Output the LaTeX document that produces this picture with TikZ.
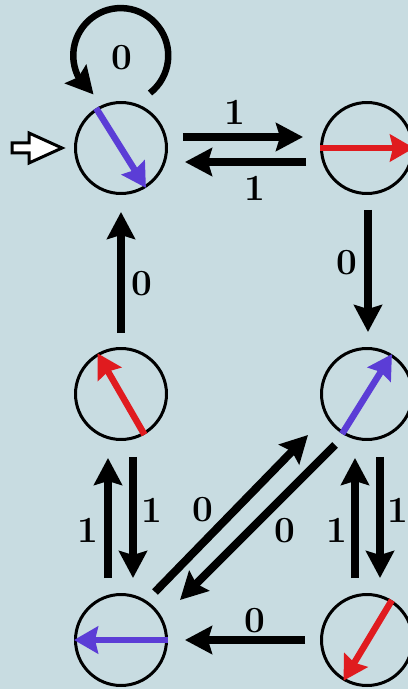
\documentclass[tikz,border=0pt]{standalone}
\usepackage{tikz}
\usetikzlibrary{arrows.meta,positioning,calc,bending}
\definecolor{board}{HTML}{C8DCE1}
\definecolor{spinred}{HTML}{E01B1F}
\definecolor{spinblue}{HTML}{5B3DD6}

\tikzset{
  state/.style={circle, draw, line width=0.06cm, minimum size=1.82cm, inner sep=0pt},
  trans/.style={line width=0.16cm, -{Stealth[length=0.54cm, width=0.56cm, inset=0.08cm]}},
  needle/.style={line width=0.13cm, -{Stealth[length=0.48cm, width=0.54cm, inset=0.06cm]}},
  lbl/.style={font=\fontsize{21}{24}\selectfont\bfseries, inner sep=0pt},
}

\begin{document}
\begin{tikzpicture}[x=0.02cm, y=0.02cm]
  \path[use as bounding box, fill=board] (0,0) rectangle (408,-689);
  \clip (0,0) rectangle (408,-689);

  % --- states ---
  \node[state] (q0) at (121,-148) {};
  \node[state] (q1) at (367,-148) {};
  \node[state] (q2) at (121,-394) {};
  \node[state] (q3) at (367,-394) {};
  \node[state] (q4) at (121,-640) {};
  \node[state] (q5) at (367,-640) {};

  % --- needles ---
  \draw[needle, spinblue] (q0.122) -- (q0.-58);
  \draw[needle, spinred]  (q1.180) -- (q1.0);
  \draw[needle, spinred]  (q2.-60) -- (q2.120);
  \draw[needle, spinblue] (q3.238) -- (q3.58);
  \draw[needle, spinblue] (q4.0)   -- (q4.180);
  \draw[needle, spinred]  (q5.58)  -- (q5.240);

  % --- start arrow ---
  \coordinate (init) at ($(q0.west)+(-12,0)$);
  \draw[line width=0.06cm, fill=white, line join=miter] (init) -- ++(-33,15) -- ++(0,-10)
    -- ++(-17,0) -- ++(0,-10) -- ++(17,0) -- ++(0,-10) -- cycle;

  % --- self loop ---
  \draw[trans, line width=0.13cm] ($(q0)+(29,55)$) arc[start angle=-52, end angle=235, radius=0.95cm];
  \node[lbl] (l00) at ($(q0)+(1,90)$) {0};

  % --- top row ---
  \draw[trans] ($(q0.east)+(15,11)$) -- node[lbl, pos=.43, shift={(0,25)}] {1} ($(q1.west)+(-17,11)$);
  \draw[trans] ($(q1.west)+(-14,-14)$) -- node[lbl, pos=.42, shift={(0,-26)}] {1} ($(q0.east)+(17,-14)$);

  % --- columns ---
  \draw[trans] ($(q1.south)+(1,-15)$) -- node[lbl, pos=.43, shift={(-21,0)}] {0} ($(q3.north)+(1,15)$);
  \draw[trans] ($(q2.north)+(0,14)$) -- node[lbl, pos=.41, shift={(21,0)}] {0} ($(q0.south)+(0,-17)$);

  \draw[trans] ($(q4.north)+(-13,15)$) -- node[lbl, pos=.4, shift={(-20,0)}] {1} ($(q2.south)+(-13,-17)$);
  \draw[trans] ($(q2.south)+(12,-16)$) -- node[lbl, pos=.44, shift={(19,0)}] {1} ($(q4.north)+(12,15)$);
  \draw[trans] ($(q5.north)+(-12,15)$) -- node[lbl, pos=.4, shift={(-18,0)}] {1} ($(q3.south)+(-12,-17)$);
  \draw[trans] ($(q3.south)+(13,-16)$) -- node[lbl, pos=.44, shift={(18,0)}] {1} ($(q5.north)+(13,15)$);

  % --- diagonals ---
  \draw[trans] ($(q4)+(34,48)$) -- node[lbl, pos=.42, shift={(-16,16)}] {0} ($(q3)+(-59,-41)$);
  \draw[trans] ($(q3)+(-32,-51)$) -- node[lbl, pos=.44, shift={(18,-17)}] {0} ($(q4)+(59,40)$);

  % --- bottom row ---
  \draw[trans] ($(q5.west)+(-15,0)$) -- node[lbl, pos=.42, shift={(0,19)}] {0} ($(q4.east)+(17,0)$);
\end{tikzpicture}
\end{document}
